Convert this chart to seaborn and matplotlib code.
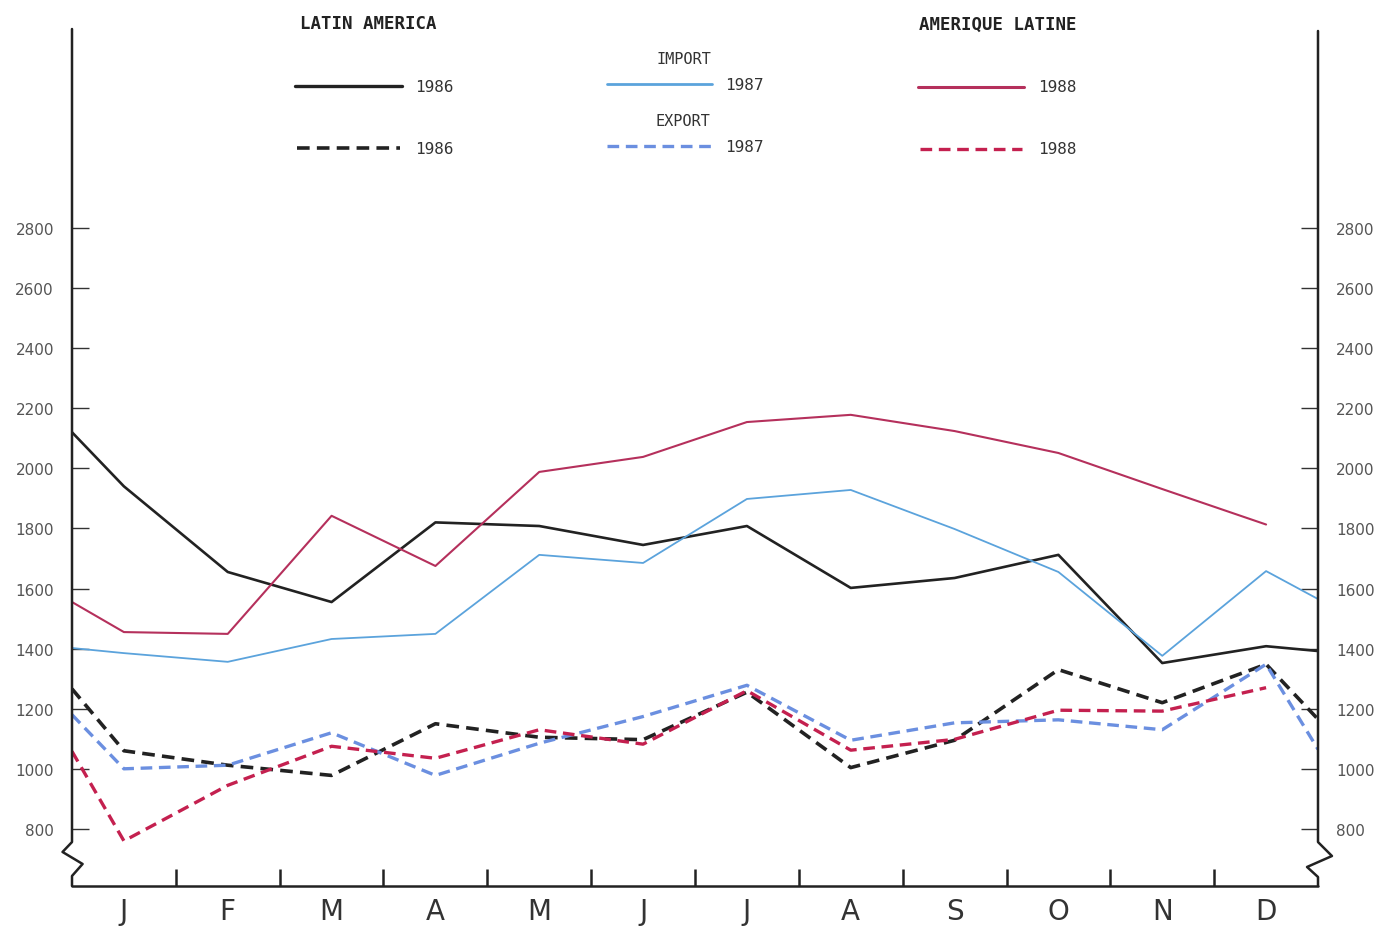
import numpy as np
import pandas as pd
import matplotlib
matplotlib.use('Agg')
import matplotlib.pyplot as plt
from matplotlib.lines import Line2D
import seaborn as sns

# Data, values at left axis edge, J..D, right axis edge
months = ['J', 'F', 'M', 'A', 'M', 'J', 'J', 'A', 'S', 'O', 'N', 'D']
x_pos = [0.5] + list(range(1, 13)) + [12.5]

imp_1986 = [2120, 1940, 1655, 1555, 1820, 1808, 1745, 1808, 1602, 1635, 1712, 1352, 1408, 1392]
imp_1987 = [1402, 1385, 1356, 1432, 1449, 1712, 1685, 1898, 1928, 1798, 1655, 1376, 1658, 1565]
imp_1988 = [1555, 1455, 1449, 1842, 1675, 1988, 2038, 2154, 2178, 2124, 2051, 1931, 1813, np.nan]
exp_1986 = [1266, 1060, 1012, 978, 1150, 1105, 1097, 1255, 1004, 1095, 1330, 1220, 1348, 1165]
exp_1987 = [1180, 1000, 1012, 1120, 978, 1085, 1174, 1278, 1095, 1153, 1163, 1130, 1348, 1065]
exp_1988 = [1058, 760, 945, 1075, 1035, 1130, 1082, 1260, 1062, 1098, 1195, 1192, 1270, np.nan]

yticks = [800, 1000, 1200, 1400, 1600, 1800, 2000, 2200, 2400, 2600, 2800]

c_black = '#222222'
c_blue = '#5ba3dc'
c_blue_d = '#6b8fe0'
c_red = '#b5305c'
c_red_d = '#c4204f'
dash = (0, (3.5, 2))

sns.set_style('white')
plt.rcParams['font.family'] = ['DejaVu Sans']

W, H = 1381, 929
fig = plt.figure(figsize=(W / 100, H / 100), dpi=100)
ax = fig.add_axes([72 / W, 1 - 887 / H, (1318 - 72) / W, (887 - 30) / H])

series = [
    (imp_1986, c_black, 1.9, '-'),
    (imp_1987, c_blue, 1.3, '-'),
    (imp_1988, c_red, 1.5, '-'),
    (exp_1986, c_black, 2.6, dash),
    (exp_1987, c_blue_d, 2.4, dash),
    (exp_1988, c_red_d, 2.4, dash),
]
for vals, col, lw, ls in series:
    df = pd.DataFrame({'x': x_pos, 'y': vals}).dropna()
    sns.lineplot(data=df, x='x', y='y', ax=ax, color=col, lw=lw,
                 linestyle=ls, estimator=None, sort=False)

ax.set_xlim(0.5, 12.5)
ax.set_ylim(610, 3462)
ax.set_xlabel('')
ax.set_ylabel('')
for s in ax.spines.values():
    s.set_visible(False)

# y ticks on both sides, pointing in
ax.set_yticks(yticks)
ax.set_yticklabels([str(v) for v in yticks])
ax.tick_params(axis='y', left=True, right=True, labelleft=True, labelright=True,
               direction='in', length=12, width=1, color='#333333', pad=13,
               labelsize=11, labelcolor='#555555')

# months as labels, boundaries as ticks
ax.set_xticks(range(1, 13))
ax.set_xticklabels(months)
ax.set_xticks([m + 0.5 for m in range(1, 12)], minor=True)
ax.tick_params(axis='x', which='major', length=0, pad=8, labelsize=20,
               labelcolor='#333333')
ax.tick_params(axis='x', which='minor', bottom=True, direction='in', length=12,
               width=1.8, color='#222222')

# axis frame with the break zigzags
ax.plot([0, 0, -0.0076, 0.0085, 0, 0], [1, 0.0513, 0.0397, 0.0257, 0.0117, 0],
        transform=ax.transAxes, color='#222222', lw=1.8, clip_on=False)
ax.plot([1, 1, 1.0112, 0.9912, 1, 1], [0.9977, 0.0513, 0.0350, 0.0222, 0.0105, 0],
        transform=ax.transAxes, color='#222222', lw=1.8, clip_on=False)
ax.plot([0, 1], [0, 0], transform=ax.transAxes, color='#222222', lw=1.8,
        clip_on=False)

# legend block drawn in figure pixels
def fx(px):
    return px / W

def fy(py):
    return 1 - py / H

mono = 'DejaVu Sans Mono'
fig.text(fx(368), fy(24), 'LATIN AMERICA', family=mono, fontsize=12.5,
         fontweight='bold', color='#222222', ha='center', va='center')
fig.text(fx(998), fy(25), 'AMERIQUE LATINE', family=mono, fontsize=12.5,
         fontweight='bold', color='#222222', ha='center', va='center')
fig.text(fx(684), fy(60), 'IMPORT', family=mono, fontsize=11,
         color='#333333', ha='center', va='center')
fig.text(fx(683), fy(121), 'EXPORT', family=mono, fontsize=11,
         color='#333333', ha='center', va='center')

legend_rows = [
    (295, 402, 87, c_black, 2.4, '-', 415, '1986'),
    (297, 400, 149, c_black, 2.6, dash, 415, '1986'),
    (607, 712, 85, c_blue, 2.0, '-', 725, '1987'),
    (607, 712, 147, c_blue_d, 2.4, dash, 725, '1987'),
    (918, 1024, 88, c_red, 2.2, '-', 1038, '1988'),
    (920, 1022, 150, c_red_d, 2.4, dash, 1038, '1988'),
]
for x0, x1, y, col, lw, ls, tx, lab in legend_rows:
    fig.add_artist(Line2D([fx(x0), fx(x1)], [fy(y), fy(y)], color=col, lw=lw,
                          linestyle=ls, transform=fig.transFigure))
    fig.text(fx(tx), fy(y), lab, family=mono, fontsize=11.5, color='#333333',
             ha='left', va='center')

plt.savefig('out.png', dpi=100)
plt.close()
